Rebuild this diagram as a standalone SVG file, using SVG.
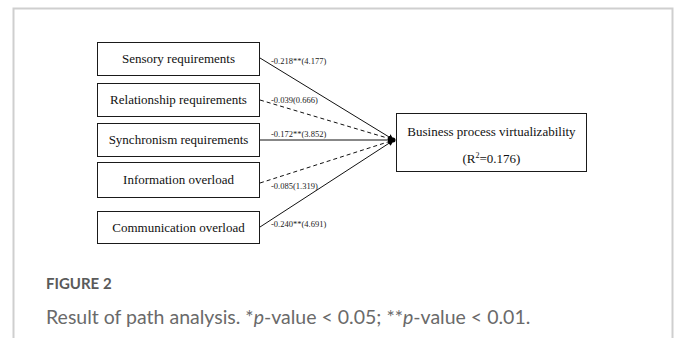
<svg xmlns="http://www.w3.org/2000/svg" width="677" height="338" viewBox="0 0 677 338">
  <style>
    .box { fill: #ffffff; stroke: #1a1a1a; stroke-width: 1; }
    .lbl { font-family: "Liberation Serif", "Times New Roman", serif; font-size: 13px; fill: #111; text-anchor: middle; }
    .coef { font-family: "Liberation Serif", "Times New Roman", serif; font-size: 8.5px; fill: #222; }
    .path { stroke: #111; stroke-width: 1; fill: none; }
    .dash { stroke-dasharray: 4 3; }
    .cap-title { font-family: Lato, "Open Sans", sans-serif; font-size: 15px; font-weight: 700; fill: #5a5a5a; }
    .cap-text { font-family: Lato, "Open Sans", sans-serif; font-size: 19.5px; fill: #6a6a6a; }
  </style>
  <defs>
    <marker id="head" viewBox="0 0 10 10" refX="10" refY="5" markerWidth="6" markerHeight="6" markerUnits="userSpaceOnUse" orient="auto">
      <path d="M0,0 L10,5 L0,10 z" fill="#000"/>
    </marker>
  </defs>

  <!-- figure panel frame -->
  <path d="M13.5,338 V8.5 H672.5 V338" fill="none" stroke="#cfcfcf" stroke-width="2"/>

  <!-- path connectors -->
  <g id="connectors">
    <line class="path" x1="260" y1="58" x2="394" y2="140" marker-end="url(#head)"/>
    <line class="path dash" x1="260" y1="100" x2="394" y2="140" marker-end="url(#head)"/>
    <line class="path" x1="260" y1="140" x2="394" y2="140" marker-end="url(#head)"/>
    <line class="path dash" x1="260" y1="183" x2="394" y2="140" marker-end="url(#head)"/>
    <line class="path" x1="260" y1="227" x2="394" y2="140" marker-end="url(#head)"/>
    <circle cx="393" cy="140" r="2.5" fill="#000"/>
    <text class="coef" x="271" y="64">-0.218**(4.177)</text>
    <text class="coef" x="271" y="103">-0.039(0.666)</text>
    <text class="coef" x="271" y="137">-0.172**(3.852)</text>
    <text class="coef" x="271" y="189">-0.085(1.319)</text>
    <text class="coef" x="271" y="227">-0.240**(4.691)</text>
  </g>

  <g id="sensory">
    <rect class="box" x="97.5" y="42.5" width="162" height="33"/>
    <text class="lbl" x="178.5" y="63">Sensory requirements</text>
  </g>
  <g id="relationship">
    <rect class="box" x="97.5" y="83.5" width="162" height="33"/>
    <text class="lbl" x="178.5" y="104">Relationship requirements</text>
  </g>
  <g id="synchronism">
    <rect class="box" x="97.5" y="123.5" width="162" height="33"/>
    <text class="lbl" x="178.5" y="144">Synchronism requirements</text>
  </g>
  <g id="information">
    <rect class="box" x="97.5" y="162.5" width="162" height="35"/>
    <text class="lbl" x="178.5" y="184">Information overload</text>
  </g>
  <g id="communication">
    <rect class="box" x="97.5" y="211.5" width="162" height="32"/>
    <text class="lbl" x="178.5" y="232">Communication overload</text>
  </g>
  <g id="virtualizability">
    <rect class="box" x="396.5" y="113.5" width="190" height="58"/>
    <text class="lbl" x="491.5" y="136">Business process virtualizability</text>
    <text class="lbl" x="491.5" y="163">(R<tspan font-size="8" dy="-5">2</tspan><tspan dy="5">=0.176)</tspan></text>
  </g>

  <!-- caption -->
  <text class="cap-title" x="46" y="289">FIGURE 2</text>
  <text class="cap-text" x="46" y="324">Result of path analysis. *<tspan font-style="italic">p</tspan>-value &lt; 0.05; **<tspan font-style="italic">p</tspan>-value &lt; 0.01.</text>
</svg>
